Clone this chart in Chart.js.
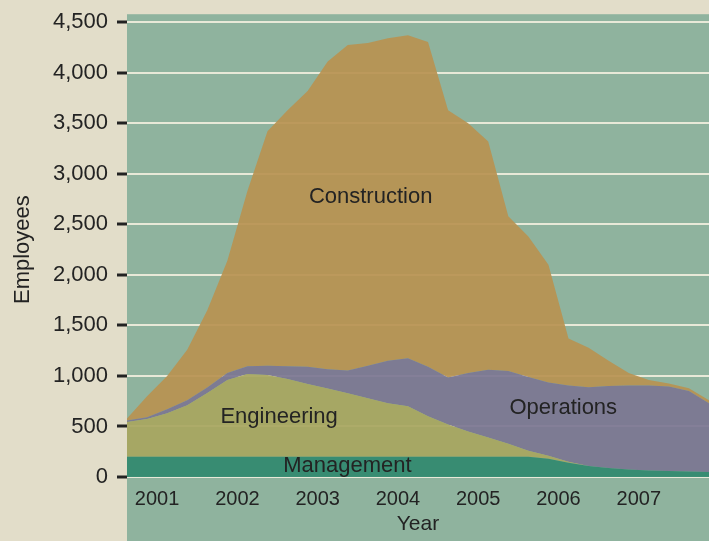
<!DOCTYPE html>
<html>
<head>
<meta charset="utf-8">
<script src="https://cdn.jsdelivr.net/npm/chart.js@4/dist/chart.umd.min.js"></script>
<style>
    html, body { margin: 0; padding: 0; background: #e2ddc9; }
    #wrap { width: 709px; height: 541px; }
</style>
</head>
<body>
<div id="wrap"><canvas id="staffChart" width="709" height="541"></canvas></div>
<script>
// quarters (decimal years) the series are sampled at
const quarters = [
    2000.625, 2000.875, 2001.125, 2001.375, 2001.625, 2001.875,
    2002.125, 2002.375, 2002.625, 2002.875, 2003.125, 2003.375,
    2003.625, 2003.875, 2004.125, 2004.375, 2004.625, 2004.875,
    2005.125, 2005.375, 2005.625, 2005.875, 2006.125, 2006.375,
    2006.625, 2006.875, 2007.125, 2007.375, 2007.625, 2007.875
];

const management = [
    200, 200, 200, 200, 200, 200, 200, 200, 200, 200,
    200, 200, 200, 200, 200, 200, 200, 200, 200, 200,
    200, 180, 140, 110, 90, 75, 65, 60, 55, 50
];
const engineering = [
    345, 375, 430, 510, 630, 760, 820, 810, 770, 720,
    675, 628, 580, 530, 500, 400, 320, 250, 190, 130,
    60, 30, 10, 0, 0, 0, 0, 0, 0, 0
];
const operations = [
    15, 15, 40, 50, 55, 70, 75, 90, 125, 170,
    190, 226, 320, 420, 475, 490, 465, 580, 670, 720,
    730, 725, 755, 777, 810, 831, 841, 835, 795, 680
];
const construction = [
    20, 210, 330, 500, 765, 1110, 1735, 2320, 2535, 2730,
    3045, 3221, 3195, 3190, 3197, 3215, 2645, 2470, 2260, 1530,
    1390, 1165, 465, 393, 250, 124, 54, 31, 27, 30
];

const yearTicks = [2001, 2002, 2003, 2004, 2005, 2006, 2007];

// area names written inside the chart
const areaLabels = [
    { text: "Construction", x: 2003.66, y: 2770 },
    { text: "Engineering", x: 2002.52, y: 590 },
    { text: "Operations", x: 2006.06, y: 680 },
    { text: "Management", x: 2003.37, y: 108 }
];

const FONT = "'Liberation Sans', Arial, Helvetica, sans-serif";
const INK = "#232323";

function toPoints(values) {
    return values.map((v, i) => ({ x: quarters[i], y: v }));
}

// paper + plot panel behind everything
const panelPlugin = {
    id: "panel",
    beforeDraw(chart) {
        const { ctx, chartArea, width, height } = chart;
        ctx.save();
        ctx.fillStyle = "#e2ddc9";
        ctx.fillRect(0, 0, width, height);
        ctx.fillStyle = "#8fb39e";
        ctx.fillRect(chartArea.left, chartArea.top - 8, width - chartArea.left, height - chartArea.top + 8);
        ctx.restore();
    }
};

const areaLabelPlugin = {
    id: "areaLabels",
    afterDatasetsDraw(chart) {
        const { ctx, scales } = chart;
        ctx.save();
        ctx.font = "22px " + FONT;
        ctx.fillStyle = INK;
        ctx.textAlign = "center";
        ctx.textBaseline = "middle";
        areaLabels.forEach(l => {
            ctx.fillText(l.text, scales.x.getPixelForValue(l.x), scales.y.getPixelForValue(l.y));
        });
        ctx.restore();
    }
};

const ctx = document.getElementById("staffChart").getContext("2d");

new Chart(ctx, {
    type: "line",
    data: {
        datasets: [
            {
                label: "Management",
                data: toPoints(management),
                backgroundColor: "rgba(52, 138, 112, 0.95)",
                fill: "origin"
            },
            {
                label: "Engineering",
                data: toPoints(engineering),
                backgroundColor: "rgba(168, 166, 96, 0.93)",
                fill: "-1"
            },
            {
                label: "Operations",
                data: toPoints(operations),
                backgroundColor: "rgba(124, 118, 146, 0.93)",
                fill: "-1"
            },
            {
                label: "Construction",
                data: toPoints(construction),
                backgroundColor: "rgba(184, 146, 82, 0.93)",
                fill: "-1"
            }
        ]
    },
    options: {
        responsive: false,
        animation: false,
        layout: { padding: { top: 20, right: 0, bottom: 0, left: 0 } },
        elements: {
            line: { borderWidth: 0, tension: 0 },
            point: { radius: 0 }
        },
        scales: {
            x: {
                type: "linear",
                min: 2000.625,
                max: 2007.875,
                grid: { display: false, drawTicks: false },
                border: { display: false },
                afterBuildTicks: scale => { scale.ticks = yearTicks.map(v => ({ value: v })); },
                afterFit: scale => { scale.height = 64; },
                ticks: {
                    padding: 10,
                    color: INK,
                    font: { family: FONT, size: 20 },
                    callback: v => String(v)
                },
                title: {
                    display: true,
                    text: "Year",
                    color: INK,
                    font: { family: FONT, size: 21 },
                    padding: { top: 0, bottom: 4 }
                }
            },
            y: {
                stacked: true,
                min: 0,
                max: 4500,
                afterFit: scale => { scale.width = 127; },
                grid: {
                    color: "rgba(242, 238, 222, 0.9)",
                    lineWidth: 2,
                    tickColor: "#222",
                    tickLength: 10,
                    tickWidth: 3
                },
                border: { display: false },
                ticks: {
                    stepSize: 500,
                    padding: 9,
                    color: INK,
                    font: { family: FONT, size: 22 },
                    callback: v => v.toLocaleString("en-US")
                },
                title: {
                    display: true,
                    text: "Employees",
                    color: INK,
                    font: { family: FONT, size: 22 },
                    padding: { top: 10, bottom: 0 }
                }
            }
        },
        plugins: {
            legend: { display: false },
            tooltip: { enabled: false }
        }
    },
    plugins: [panelPlugin, areaLabelPlugin]
});
</script>
</body>
</html>
